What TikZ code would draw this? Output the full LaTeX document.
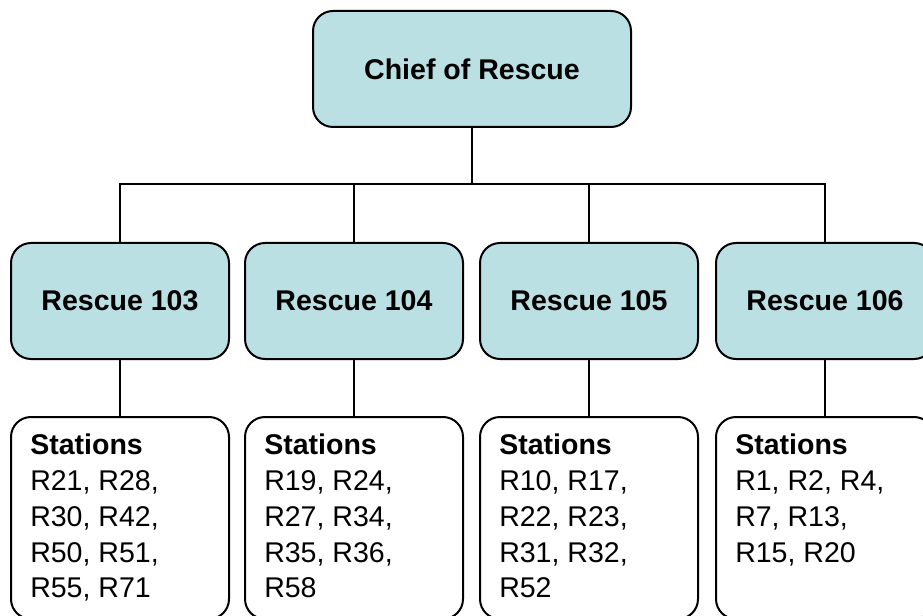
\documentclass[tikz,border=0pt]{standalone}
\usepackage{fontspec}
\setmainfont{Liberation Sans}
\usetikzlibrary{positioning}
\definecolor{rescueteal}{RGB}{187,224,227}

\begin{document}
\begin{tikzpicture}[x=0.75pt, y=-0.75pt,
  unitbox/.style={draw, line width=1.5pt, rounded corners=15pt, fill=rescueteal,
    minimum width=163.5pt, minimum height=87pt,
    font=\fontsize{21.4}{26.8}\selectfont\bfseries},
  stationbox/.style={draw, line width=1.5pt, rounded corners=15pt, fill=white,
    minimum width=163.5pt, minimum height=151.5pt},
  stationtext/.style={anchor=north west, inner sep=0pt, align=left,
    font=\fontsize{21.4}{26.8}\selectfont},
  link/.style={line width=1.5pt}]
  \useasboundingbox (0,0) rectangle (923,616);
  % --- Chief ---
  \node[unitbox, minimum width=238.5pt] (chief) at (472,69) {Chief of Rescue};
  \coordinate (bus) at (472,184);
  \draw[link] (chief.south) -- (bus);
  % --- Units and their stations ---
  \foreach \n/\x/\list in {
      103/120/{R21, R28,\\R30, R42,\\R50, R51,\\R55, R71},
      104/354/{R19, R24,\\R27, R34,\\R35, R36,\\R58},
      105/589/{R10, R17,\\R22, R23,\\R31, R32,\\R52},
      106/825/{R1, R2, R4,\\R7, R13,\\R15, R20}} {
    \node[unitbox] (u\n) at (\x,301) {Rescue \n};
    \node[stationbox] (s\n) at (\x,518) {};
    \node[stationtext] (t\n) at ([xshift=15pt, yshift=-13.5pt]s\n.north west)
      {\textbf{Stations}\\\list};
    \draw[link] (u\n.north) |- (bus);
    \draw[link] (u\n.south) -- (s\n.north);
  }
\end{tikzpicture}
\end{document}
